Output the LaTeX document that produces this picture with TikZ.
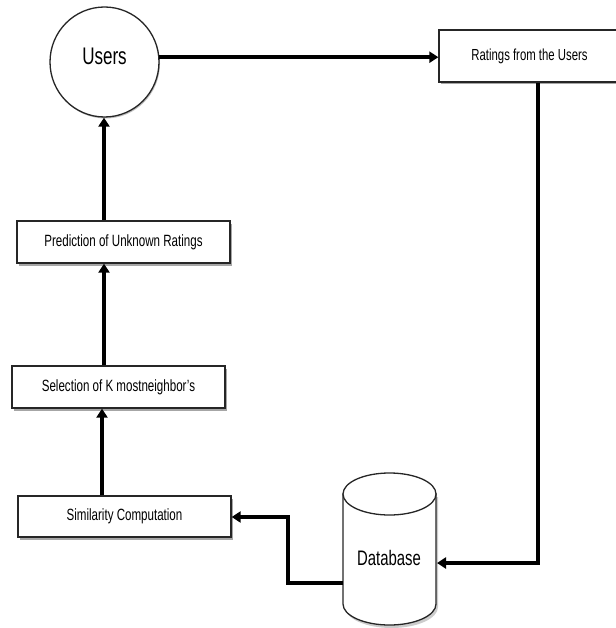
\documentclass[tikz,border=0pt]{standalone}
\usepackage{fontspec}
\setmainfont{Liberation Sans}[FakeStretch=0.71]
\usetikzlibrary{arrows.meta,shadows,shapes.geometric}
\begin{document}
\begin{tikzpicture}[x=1pt,y=-1pt,
  box/.style={draw=black!85, line width=1.3pt, fill=white, rectangle, inner sep=0pt,
    minimum height=42pt, font=\fontsize{16.3}{18}\selectfont,
    drop shadow={shadow xshift=1.5pt, shadow yshift=-2.5pt, opacity=0.35, fill=black}},
  flow/.style={line width=3.6pt, -{Triangle[length=9pt,width=11pt]}},
  flowshadow/.style={line width=4pt, black, opacity=0.12}]
\useasboundingbox (0,0) rectangle (615,628);
% Users
\node[ellipse, draw=black!85, line width=1.3pt, fill=white, minimum width=109pt, minimum height=110pt, inner sep=0pt,
  drop shadow={shadow xshift=1pt, shadow yshift=-1.5pt, opacity=0.25, fill=black},
  label={[yshift=6pt, font=\fontsize{24}{26}\selectfont]center:Users}] (users) at (104.5,62) {};
% Ratings
\node[box, minimum width=181pt, minimum height=52pt, font=\fontsize{16}{18}\selectfont] (rat) at (529.5,56) {Ratings from the Users};
% left column
\node[box, minimum width=213pt] (pred) at (123.5,242) {Prediction of Unknown Ratings};
\node[box, minimum width=213pt] (sel) at (118.5,387) {Selection of K mostneighbor’s};
\node[box, minimum width=213pt, minimum height=41pt] (sim) at (124.5,516.5) {Similarity Computation};
% Database cylinder
\begin{scope}[draw=black!85, line width=1.3pt]
  \fill[black, opacity=0.2] (345,497) -- (345,607) arc[start angle=180, end angle=360, x radius=46.5pt, y radius=21pt] -- (438,497) -- cycle;
  \filldraw[fill=white] (343,494) -- (343,604) arc[start angle=180, end angle=360, x radius=46.5pt, y radius=21pt] -- (436,494) -- cycle;
  \filldraw[fill=white] (389.5,494) circle[x radius=46.5pt, y radius=21pt];
\end{scope}
\node[font=\fontsize{21}{23}\selectfont, inner sep=0pt] (db) at (389,558) {Database};
\coordinate (dbE) at (437,563);
\coordinate (dbW) at (343,583);
% connectors
\draw[flow] (users.5) -- (rat.west |- users.5);
\draw[flow] (rat.south -| 538,0) -- (538,563) -- (dbE);
\draw[flow] (dbW) -- (288,583) -- (288,517) -- (sim.east |- 0,517);
\draw[flow] (sim.north -| 102,0) -- (sel.south -| 102,0);
\draw[flow] (sel.north -| 104,0) -- (pred.south -| 104,0);
\draw[flow] (pred.north -| 104,0) -- (users.south -| 104,0);
\end{tikzpicture}
\end{document}
